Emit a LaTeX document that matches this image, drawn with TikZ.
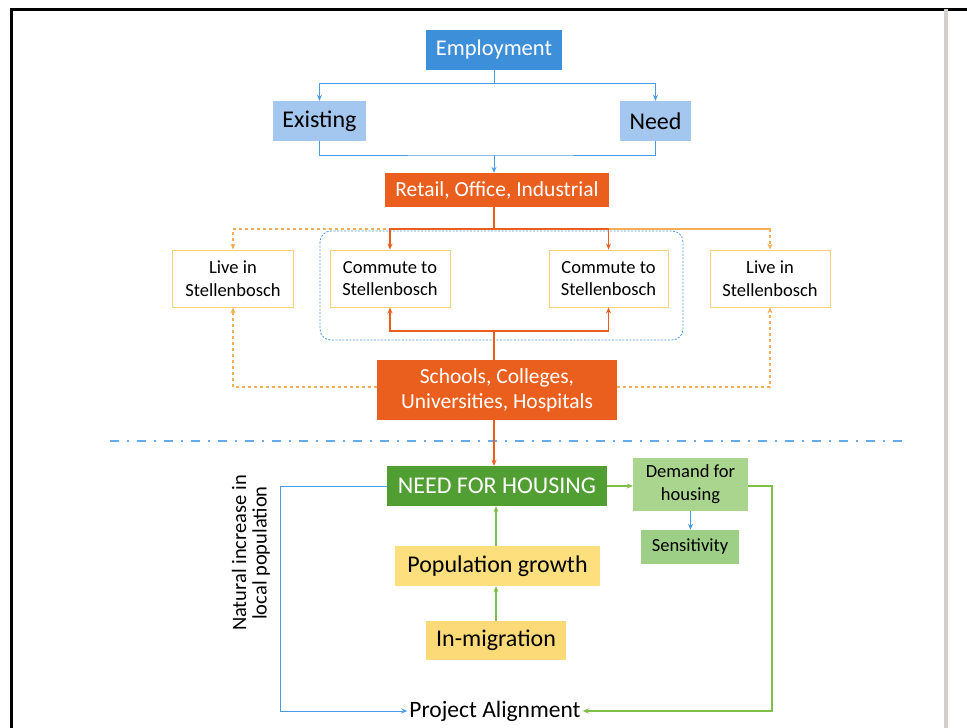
\documentclass[tikz,border=0pt]{standalone}
\usepackage{fontspec}
\setmainfont{Carlito}
\usetikzlibrary{arrows.meta}
\definecolor{empblue}{HTML}{3D8FD9}
\definecolor{lightblue}{HTML}{A3C7EE}
\definecolor{linkblue}{HTML}{4A9BE5}
\definecolor{deeporange}{HTML}{EB5F1E}
\definecolor{softorange}{HTML}{F5AE55}
\definecolor{boxedge}{HTML}{F8D27A}
\definecolor{darkgreen}{HTML}{519E33}
\definecolor{palegreen}{HTML}{A9D58E}
\definecolor{sensgreen}{HTML}{9DCF86}
\definecolor{linkgreen}{HTML}{7DC047}
\definecolor{paleyellow}{HTML}{FDDF7E}
\definecolor{fold}{HTML}{D2CFCF}
\tikzset{
  x=1pt, y=-1pt,
  box/.style={draw=none, inner sep=0pt, align=center, font=\fontsize{#1}{#1}\selectfont},
  box/.default=20,
  tip/.style={-{Stealth[length=6pt,width=5pt]}},
  bluelink/.style={draw=linkblue, line width=1pt, tip},
  orangelink/.style={draw=deeporange, line width=1.3pt, tip},
  dotlink/.style={draw=softorange, line width=1.2pt, dash pattern=on 3pt off 3pt, tip},
  greenlink/.style={draw=linkgreen, line width=1.2pt, tip},
  livebox/.style={draw=boxedge, line width=0.9pt, fill=white, minimum width=121pt, minimum height=57pt, inner sep=0pt, align=center, font=\fontsize{18.5}{22.5}\selectfont},
}
\begin{document}
\begin{tikzpicture}
\useasboundingbox[fill=white] (0,0) rectangle (967,728);
% page edges of the sheet
\draw[black, line width=3pt] (11,728) -- (11,9) -- (967,9);
\draw[fold, line width=4pt] (946,9) -- (946,728);

% upper part: employment
\node[box=22.5, fill=empblue, text=white, minimum width=136pt, minimum height=40pt] (emp) at (494,50) {Employment};
\node[box=24, fill=lightblue, minimum width=93pt, minimum height=40pt] (exist) at (319.5,121) {Existing};
\node[box=24, fill=lightblue, minimum width=71pt, minimum height=40pt] (need) at (655.5,121) {Need};
\node[box=21.5, fill=deeporange, text=white, minimum width=224pt, minimum height=34pt] (retail) at (497,190) {Retail, Office, Industrial};

\coordinate (split) at (494,83);
\draw[draw=linkblue, line width=1pt] (emp.south) -- (split);
\draw[bluelink] (split) -| (exist.north);
\draw[bluelink] (split) -| (need.north);
\coordinate (join) at (494,155);
\draw[draw=linkblue, line width=1pt] (exist.south) |- (join) -| (need.south);
\draw[bluelink] (join) -- (retail.north -| join);

% commuting group
\draw[draw=linkblue, line width=0.8pt, dash pattern=on 2pt off 1.5pt, rounded corners=11pt] (320,231) rectangle (683,340);

\node[livebox] (liveL) at (233,278.5) {Live in\\Stellenbosch};
\node[livebox, minimum width=120pt] (comL) at (390,278.5) {Commute to\\Stellenbosch};
\node[livebox, minimum width=119pt] (comR) at (608.5,278.5) {Commute to\\Stellenbosch};
\node[livebox, minimum width=120pt] (liveR) at (770,278.5) {Live in\\Stellenbosch};

\node[box=21.5, fill=deeporange, text=white, minimum width=240pt, minimum height=60pt, font=\fontsize{21.5}{25}\selectfont] (schools) at (497,390) {Schools, Colleges,\\Universities, Hospitals};

% links from retail
\coordinate (rsplit) at (494,229);
\draw[draw=softorange, line width=1.2pt, dash pattern=on 3pt off 3pt] (liveL.north |- rsplit) -- (liveR.north |- rsplit);
\draw[dotlink] (rsplit) -| (liveL.north);
\draw[dotlink] (rsplit) -| (liveR.north);
\draw[draw=deeporange, line width=1.3pt] (retail.south -| rsplit) -- (rsplit);
\draw[orangelink] (rsplit) -| (comL.north);
\draw[orangelink] (rsplit) -| (comR.north);

% links from schools
\coordinate (ssplit) at (494,331);
\draw[draw=deeporange, line width=1.3pt] (schools.north -| ssplit) -- (ssplit);
\draw[orangelink] (ssplit) -| (comL.south);
\draw[orangelink] (ssplit) -| (comR.south);
\draw[dotlink] (schools.west |- 0,387) -| (liveL.south);
\draw[dotlink] (schools.east |- 0,387) -| (liveR.south);

% separator
\draw[draw=linkblue!85, line width=2pt, dash pattern=on 9pt off 8pt on 2pt off 8pt] (110,441) -- (905,441);

% housing part
\node[box=24, fill=darkgreen, text=white, minimum width=220pt, minimum height=40pt] (housing) at (497,486) {NEED FOR HOUSING};
\node[box=18.5, fill=palegreen, minimum width=115pt, minimum height=53pt, font=\fontsize{18.5}{23}\selectfont] (demand) at (690.5,484.5) {Demand for\\housing};
\node[box=18.5, fill=sensgreen, minimum width=98pt, minimum height=34pt] (sens) at (690,547) {Sensitivity};
\node[box=24, fill=paleyellow, minimum width=205pt, minimum height=40pt] (pop) at (497.5,566) {Population growth};
\node[box=24, fill=paleyellow!95!orange, minimum width=140pt, minimum height=39pt] (inmig) at (496,640.5) {In-migration};
\node[box=23.5, fill=none, inner sep=2pt] (align) at (495,711) {Project Alignment};
\node[rotate=90, align=center, font=\fontsize{20.5}{20.5}\selectfont] (natural) at (251,553) {Natural increase in\\local population};

\draw[orangelink] (schools.south -| 494,0) -- (housing.north -| 494,0);
\draw[greenlink] (inmig.north -| 496,0) -- (pop.south -| 496,0);
\draw[greenlink] (pop.north -| 496,0) -- (housing.south -| 496,0);
\draw[greenlink] (housing.east) -- (demand.west |- housing.east);
\draw[bluelink] (demand.south) -- (sens.north -| demand.south);
\draw[bluelink] (housing.west) -| (280,711) -- (align.west);
\draw[greenlink] (demand.east |- housing.east) -| (772,711) -- (align.east);
\end{tikzpicture}
\end{document}
